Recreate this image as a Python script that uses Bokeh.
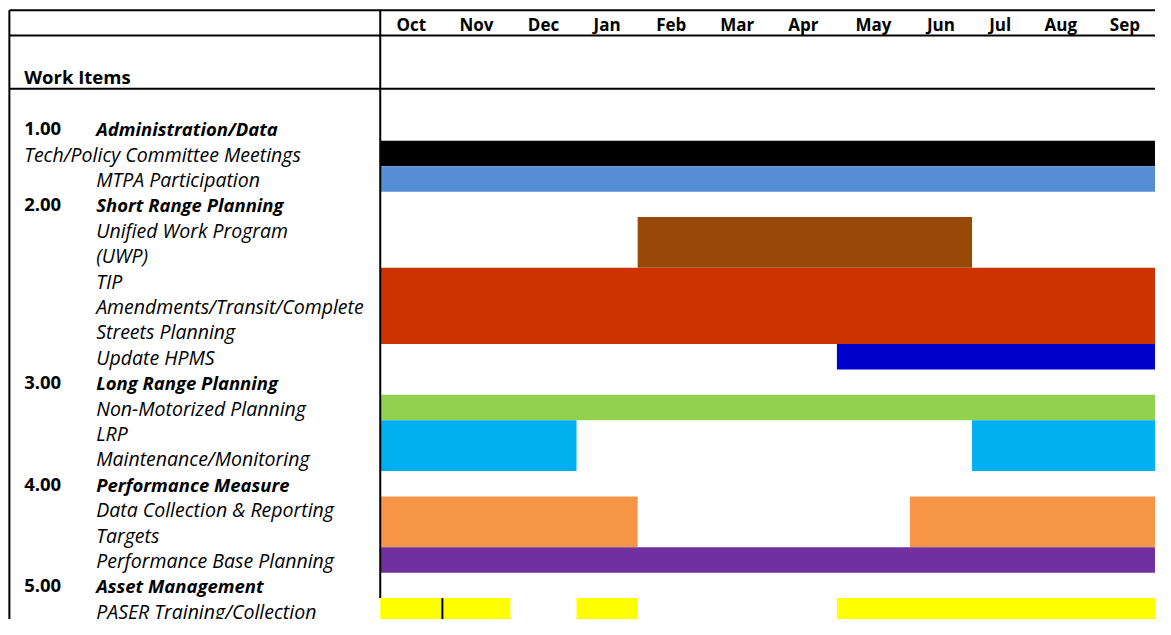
from bokeh.plotting import figure
from bokeh.models import Range1d, ColumnDataSource
from bokeh.core.properties import value
from bokeh.embed import file_html
from bokeh.resources import INLINE

# ---------------- data ----------------
months = ["Oct", "Nov", "Dec", "Jan", "Feb", "Mar", "Apr", "May", "Jun", "Jul", "Aug", "Sep"]

row_numbers = ["1.00", "", "", "2.00", "", "", "", "", "", "", "3.00", "", "", "",
               "4.00", "", "", "", "5.00", ""]
row_labels = ["Administration/Data", "Tech/Policy Committee Meetings", "MTPA Participation",
              "Short Range Planning", "Unified Work Program", "(UWP)", "TIP",
              "Amendments/Transit/Complete", "Streets Planning", "Update HPMS",
              "Long Range Planning", "Non-Motorized Planning", "LRP", "Maintenance/Monitoring",
              "Performance Measure", "Data Collection & Reporting", "Targets",
              "Performance Base Planning", "Asset Management", "PASER Training/Collection"]
row_is_section = [True, False, False, True, False, False, False, False, False, False,
                  True, False, False, False, True, False, False, False, True, False]

task_names = ["Tech/Policy Committee Meetings", "MTPA Participation",
              "Unified Work Program (UWP)", "TIP Amendments/Transit/Complete Streets Planning",
              "Update HPMS", "Non-Motorized Planning", "LRP Maintenance/Monitoring",
              "LRP Maintenance/Monitoring", "Data Collection & Reporting Targets",
              "Data Collection & Reporting Targets", "Performance Base Planning",
              "PASER Training/Collection", "PASER Training/Collection", "PASER Training/Collection"]
task_row = [1, 2, 4, 6, 9, 11, 12, 12, 15, 15, 17, 19, 19, 19]
task_span = [1, 1, 2, 3, 1, 1, 2, 2, 2, 2, 1, 1, 1, 1]
task_start = [0, 0, 4, 0, 7, 0, 0, 9, 0, 8, 0, 0, 3, 7]   # month index (Oct = 0)
task_end = [12, 12, 9, 12, 12, 12, 3, 12, 4, 12, 12, 2, 4, 12]
task_color = ["#000000", "#558ED5", "#984807", "#CC3300", "#0000CC", "#92D050", "#00B0F0",
              "#00B0F0", "#F79646", "#F79646", "#7030A0", "#FFFF00", "#FFFF00", "#FFFF00"]

# ---------------- layout (spreadsheet geometry, reference px) ----------------
month_edges = [385, 448, 517, 584, 646, 714, 780, 848, 922, 985, 1042, 1108, 1175]
left_edge = 9
right_edge = 1175
top_edge = 10
header_line1 = 36
header_line2 = 90.5
row0_top = 117.9
row_h = 26.06
col_a = 24
col_b = 97
FONT = "Open Sans"
FS_B = "18.5px"
FS_I = "19.5px"
PAD = 12.5   # text baseline offset above the row bottom


def row_top(i):
    return row0_top + row_h * i


p = figure(width=1155, height=619, x_range=Range1d(0, 1171), y_range=Range1d(635, 0),
           output_backend="svg", toolbar_location=None, x_axis_type=None, y_axis_type=None,
           min_border=0, outline_line_color=None, background_fill_color="white")
p.xgrid.visible = False
p.ygrid.visible = False

# bars
bars = ColumnDataSource(dict(
    left=[month_edges[s] for s in task_start],
    right=[month_edges[e] for e in task_end],
    top=[row_top(r) for r in task_row],
    bottom=[row_top(r + n) for r, n in zip(task_row, task_span)],
    color=task_color, name=task_names))
p.quad(left="left", right="right", top="top", bottom="bottom", source=bars,
       fill_color="color", line_color=None)

# table lines
p.segment(x0=[left_edge, left_edge, left_edge, left_edge, month_edges[0], month_edges[1]],
          y0=[top_edge, header_line1, header_line2, top_edge, top_edge, row_top(19)],
          x1=[right_edge, right_edge, right_edge, left_edge, month_edges[0], month_edges[1]],
          y1=[top_edge, header_line1, header_line2, 645, row_top(19), 645],
          line_color="black", line_width=2)

# month header
p.text(x=[(month_edges[i] + month_edges[i + 1]) / 2 for i in range(11)] + [1140],
       y=[header_line1 - 11] * 12, text=months, text_font=value(FONT),
       text_font_size=value("17px"), text_font_style="bold", text_align="center",
       text_baseline="alphabetic", text_color="black")

p.text(x=[col_a], y=[header_line2 - 13], text=["Work Items"], text_font=value(FONT),
       text_font_size=value(FS_B), text_font_style="bold", text_baseline="alphabetic",
       text_color="black")

# row numbers
num_idx = [i for i, n in enumerate(row_numbers) if n]
p.text(x=[col_a] * len(num_idx), y=[row_top(i + 1) - PAD for i in num_idx],
       text=[row_numbers[i] for i in num_idx], text_font=value(FONT),
       text_font_size=value(FS_B), text_font_style="bold", text_baseline="alphabetic",
       text_color="black")

# section titles
sec_idx = [i for i in range(len(row_labels)) if row_is_section[i]]
p.text(x=[col_b] * len(sec_idx), y=[row_top(i + 1) - PAD for i in sec_idx],
       text=[row_labels[i] for i in sec_idx], text_font=value(FONT),
       text_font_size=value(FS_B), text_font_style="bold italic", text_baseline="alphabetic",
       text_color="black")

# item labels
item_idx = [i for i in range(len(row_labels)) if not row_is_section[i]]
p.text(x=[col_a if row_labels[i].startswith("Tech/") else col_b for i in item_idx],
       y=[row_top(i + 1) - PAD for i in item_idx],
       text=[row_labels[i] for i in item_idx], text_font=value(FONT),
       text_font_size=value(FS_I), text_font_style="italic", text_baseline="alphabetic",
       text_color="black")

open("out.html", "w").write(file_html(p, INLINE))
